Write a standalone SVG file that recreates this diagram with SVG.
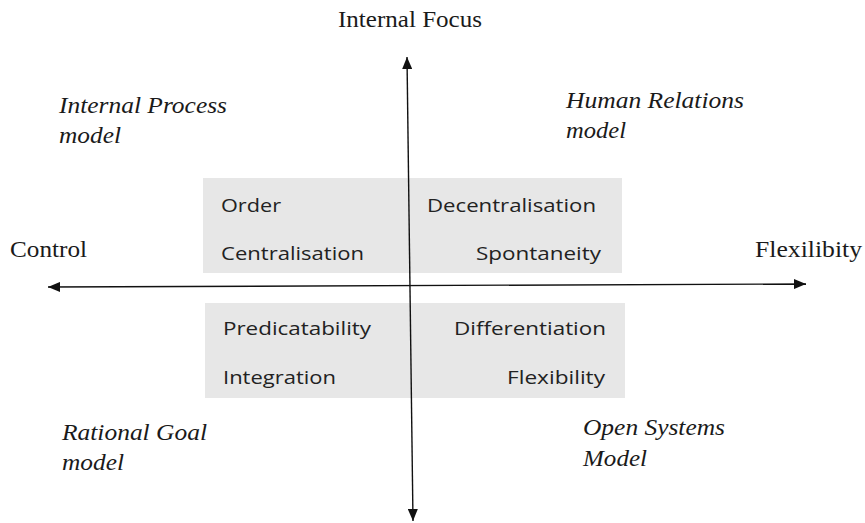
<svg xmlns="http://www.w3.org/2000/svg" width="865" height="523" viewBox="0 0 865 523">
<style>
.serif{font-family:"Liberation Serif","Times New Roman",serif;font-size:23px;fill:#1a1a1a}
.it{font-style:italic}
.sans{font-family:"Open Sans","Liberation Sans",Arial,sans-serif;font-size:19px;fill:#222}
.box{fill:#e7e7e7}
.axis{stroke:#111;stroke-width:1.4;fill:none}
</style>
<defs>
<marker id="ah" viewBox="0 0 12 10" refX="12" refY="5" markerWidth="12" markerHeight="10" markerUnits="userSpaceOnUse" orient="auto-start-reverse">
<path d="M0,0 L12,5 L0,10 Z" fill="#111"/>
</marker>
</defs>
<rect width="865" height="523" fill="#fff"/>
<g id="box-top"><rect class="box" x="203" y="178" width="419" height="95"/></g>
<g id="box-bottom"><rect class="box" x="205" y="303" width="420" height="95"/></g>
<g id="connectors">
<line class="axis" x1="407" y1="57" x2="413" y2="521" marker-start="url(#ah)" marker-end="url(#ah)"/>
<line class="axis" x1="48" y1="287" x2="806" y2="284" marker-start="url(#ah)" marker-end="url(#ah)"/>
</g>
<g id="label-internal-focus"><text class="serif" x="338" y="27" textLength="144" lengthAdjust="spacingAndGlyphs">Internal Focus</text></g>
<g id="label-control"><text class="serif" x="10" y="257" textLength="77" lengthAdjust="spacingAndGlyphs">Control</text></g>
<g id="label-flexilibity"><text class="serif" x="755" y="257" textLength="107" lengthAdjust="spacingAndGlyphs">Flexilibity</text></g>
<g id="internal-process">
<text class="serif it" x="59" y="113" textLength="168" lengthAdjust="spacingAndGlyphs">Internal Process</text>
<text class="serif it" x="59" y="143" textLength="62" lengthAdjust="spacingAndGlyphs">model</text>
</g>
<g id="human-relations">
<text class="serif it" x="566" y="108" textLength="178" lengthAdjust="spacingAndGlyphs">Human Relations</text>
<text class="serif it" x="566" y="138" textLength="60" lengthAdjust="spacingAndGlyphs">model</text>
</g>
<g id="rational-goal">
<text class="serif it" x="62" y="440" textLength="145" lengthAdjust="spacingAndGlyphs">Rational Goal</text>
<text class="serif it" x="62" y="470" textLength="62" lengthAdjust="spacingAndGlyphs">model</text>
</g>
<g id="open-systems">
<text class="serif it" x="583" y="435" textLength="142" lengthAdjust="spacingAndGlyphs">Open Systems</text>
<text class="serif it" x="583" y="466" textLength="64" lengthAdjust="spacingAndGlyphs">Model</text>
</g>
<g id="quadrant-texts">
<text class="sans" x="221" y="212" textLength="60" lengthAdjust="spacingAndGlyphs">Order</text>
<text class="sans" x="221" y="260" textLength="143" lengthAdjust="spacingAndGlyphs">Centralisation</text>
<text class="sans" x="427" y="212" textLength="169" lengthAdjust="spacingAndGlyphs">Decentralisation</text>
<text class="sans" x="476" y="260" textLength="125" lengthAdjust="spacingAndGlyphs">Spontaneity</text>
<text class="sans" x="223" y="335" textLength="148" lengthAdjust="spacingAndGlyphs">Predicatability</text>
<text class="sans" x="454" y="335" textLength="152" lengthAdjust="spacingAndGlyphs">Differentiation</text>
<text class="sans" x="223" y="384" textLength="113" lengthAdjust="spacingAndGlyphs">Integration</text>
<text class="sans" x="507" y="384" textLength="98" lengthAdjust="spacingAndGlyphs">Flexibility</text>
</g>
</svg>
